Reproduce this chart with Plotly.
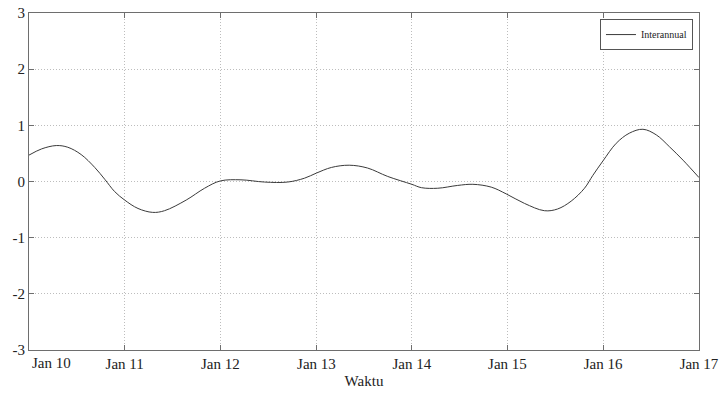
import plotly.graph_objects as go

# Interannual component, sampled along the time axis
dates = [
    "2010-01-01", "2010-02-18", "2010-04-15", "2010-05-29", "2010-07-19",
    "2010-09-09", "2010-10-17", "2010-11-24", "2011-01-01", "2011-02-21",
    "2011-04-18", "2011-06-02", "2011-08-24", "2011-11-02", "2012-01-01",
    "2012-03-20", "2012-06-18", "2012-09-14", "2012-11-18", "2013-01-02",
    "2013-02-28", "2013-05-07", "2013-07-16", "2013-10-01", "2014-01-01",
    "2014-02-07", "2014-04-10", "2014-06-25", "2014-08-22", "2014-10-31",
    "2014-12-27", "2015-03-07", "2015-05-22", "2015-07-11", "2015-09-01",
    "2015-10-22", "2015-11-23", "2016-01-01", "2016-02-20", "2016-04-10",
    "2016-06-01", "2016-07-22", "2016-09-10", "2016-11-01", "2017-01-01",
]
interannual = [
    0.47, 0.58, 0.64, 0.61, 0.48,
    0.25, 0.04, -0.18, -0.33, -0.48,
    -0.55, -0.52, -0.33, -0.12, 0.01,
    0.03, -0.01, -0.01, 0.06, 0.15,
    0.25, 0.29, 0.24, 0.09, -0.05,
    -0.11, -0.12, -0.07, -0.05, -0.10,
    -0.22, -0.39, -0.52, -0.49, -0.35,
    -0.12, 0.11, 0.37, 0.68, 0.86,
    0.93, 0.83, 0.62, 0.38, 0.07,
]

x_tick_vals = ["2010-01-01", "2011-01-01", "2012-01-01", "2013-01-02", "2014-01-01",
               "2015-01-01", "2016-01-01", "2017-01-01"]
x_tick_text = ["", "Jan 11", "Jan 12", "Jan 13", "Jan 14", "Jan 15", "Jan 16", "Jan 17"]
first_tick_label = "Jan 10"

y_tick_vals = [-3, -2, -1, 0, 1, 2, 3]
y_tick_text = ["-3", "-2", "-1", "0", "1", "2", "3"]

font_family = "Liberation Serif, Times New Roman, serif"
axis_color = "#6e6e6e"
grid_color = "#bdbdbd"
grid_dash = "1px,2px"

fig = go.Figure()
fig.add_trace(go.Scatter(
    x=dates, y=interannual, mode="lines", name="Interannual",
    line=dict(color="#3a3a3a", width=1, shape="spline", smoothing=1.0),
))

fig.update_layout(
    width=723, height=394,
    margin=dict(l=29, r=24, t=13, b=44, autoexpand=False),
    paper_bgcolor="white", plot_bgcolor="white",
    font=dict(family=font_family, size=15, color="#222222"),
    showlegend=True,
    legend=dict(
        x=0.991, y=0.982, xanchor="right", yanchor="top",
        bgcolor="white", bordercolor="#555555", borderwidth=1,
        font=dict(family=font_family, size=10, color="#222222"),
        itemwidth=30,
    ),
    xaxis=dict(
        type="date", automargin=False,
        range=["2010-01-01", "2017-01-01"],
        tickmode="array", tickvals=x_tick_vals, ticktext=x_tick_text,
        showline=True, linecolor=axis_color, linewidth=1, mirror="ticks",
        ticks="inside", ticklen=5, tickcolor=axis_color,
        showgrid=True, gridcolor=grid_color, griddash=grid_dash, gridwidth=1,
        zeroline=False,
        title=dict(text="Waktu", standoff=4, font=dict(size=15)),
    ),
    yaxis=dict(
        automargin=False,
        range=[-3, 3],
        tickmode="array", tickvals=y_tick_vals, ticktext=y_tick_text,
        showline=True, linecolor=axis_color, linewidth=1, mirror="ticks",
        ticks="inside", ticklen=5, tickcolor=axis_color,
        showgrid=True, gridcolor=grid_color, griddash=grid_dash, gridwidth=1,
        zeroline=False,
    ),
)

# The first date label sits just inside the left edge of the axis
fig.add_annotation(
    x=x_tick_vals[0], y=0, xref="x", yref="paper",
    text=first_tick_label, showarrow=False,
    xanchor="left", yanchor="top", xshift=1, yshift=-3,
    font=dict(family=font_family, size=15, color="#222222"),
)

fig.write_html("out.html")
